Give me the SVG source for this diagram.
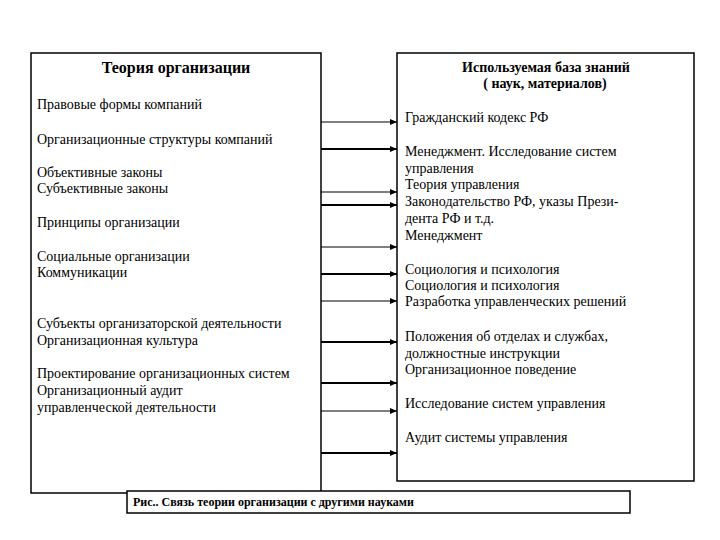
<svg xmlns="http://www.w3.org/2000/svg" width="720" height="540" viewBox="0 0 720 540">
<defs>
<marker id="ah" markerWidth="7" markerHeight="6" refX="7" refY="3" orient="auto" markerUnits="userSpaceOnUse">
<path d="M0,0 L7,3 L0,6 Z" fill="#000"/>
</marker>
<style>
.box{fill:#fff;stroke:#000;stroke-width:1.5}
text{font-family:'Liberation Serif','DejaVu Serif',serif;fill:#000}
.t{font-size:14px}
.h{font-size:14px;font-weight:bold;text-anchor:middle}
.h1{font-size:16px;font-weight:bold;text-anchor:middle}
.cap{font-size:12px;font-weight:bold}
.thin{stroke:#000;stroke-width:1.2;fill:none;marker-end:url(#ah)}
.thick{stroke:#000;stroke-width:2.2;fill:none;marker-end:url(#ah)}
</style>
</defs>
<rect width="720" height="540" fill="#fff"/>
<g id="theory">
<rect class="box" x="31" y="53" width="290" height="440"/>
<text class="h1" x="176" y="73">Теория организации</text>
<text class="t" x="37" y="109">Правовые формы компаний</text>
<text class="t" x="37" y="144">Организационные структуры компаний</text>
<text class="t" x="37" y="177">Объективные законы</text>
<text class="t" x="37" y="193">Субъективные законы</text>
<text class="t" x="37" y="227">Принципы организации</text>
<text class="t" x="37" y="261">Социальные организации</text>
<text class="t" x="37" y="277">Коммуникации</text>
<text class="t" x="37" y="328">Субъекты организаторской деятельности</text>
<text class="t" x="37" y="345">Организационная культура</text>
<text class="t" x="37" y="378">Проектирование организационных систем</text>
<text class="t" x="37" y="395">Организационный аудит</text>
<text class="t" x="37" y="412">управленческой деятельности</text>
</g>
<g id="knowledge">
<rect class="box" x="397" y="53" width="297" height="428"/>
<text class="h" x="546" y="72">Используемая база знаний</text>
<text class="h" x="545" y="88">( наук, материалов)</text>
<text class="t" x="405" y="122">Гражданский кодекс РФ</text>
<text class="t" x="405" y="156">Менеджмент. Исследование систем</text>
<text class="t" x="405" y="173">управления</text>
<text class="t" x="405" y="189">Теория управления</text>
<text class="t" x="405" y="206">Законодательство РФ, указы Прези-</text>
<text class="t" x="405" y="223">дента РФ и т.д.</text>
<text class="t" x="405" y="240">Менеджмент</text>
<text class="t" x="405" y="274">Социология и психология</text>
<text class="t" x="405" y="290">Социология и психология</text>
<text class="t" x="405" y="306">Разработка управленческих решений</text>
<text class="t" x="405" y="341">Положения об отделах и службах,</text>
<text class="t" x="405" y="358">должностные инструкции</text>
<text class="t" x="405" y="374">Организационное поведение</text>
<text class="t" x="405" y="408">Исследование систем управления</text>
<text class="t" x="405" y="442">Аудит системы управления</text>
</g>
<g id="caption">
<rect class="box" x="127" y="491" width="503" height="22"/>
<text class="cap" x="133" y="506">Рис.. Связь теории организации с другими науками</text>
</g>
<g id="connectors">
<line class="thin" x1="321" y1="122" x2="397" y2="122"/>
<line class="thick" x1="321" y1="149" x2="397" y2="149"/>
<line class="thin" x1="321" y1="192" x2="397" y2="192"/>
<line class="thick" x1="321" y1="205" x2="397" y2="205"/>
<line class="thin" x1="321" y1="247" x2="397" y2="247"/>
<line class="thick" x1="321" y1="274" x2="397" y2="274"/>
<line class="thin" x1="321" y1="301" x2="397" y2="301"/>
<line class="thick" x1="321" y1="342" x2="397" y2="342"/>
<line class="thick" x1="321" y1="383" x2="397" y2="383"/>
<line class="thin" x1="321" y1="411" x2="397" y2="411"/>
<line class="thick" x1="321" y1="453" x2="397" y2="453"/>
</g>
</svg>
